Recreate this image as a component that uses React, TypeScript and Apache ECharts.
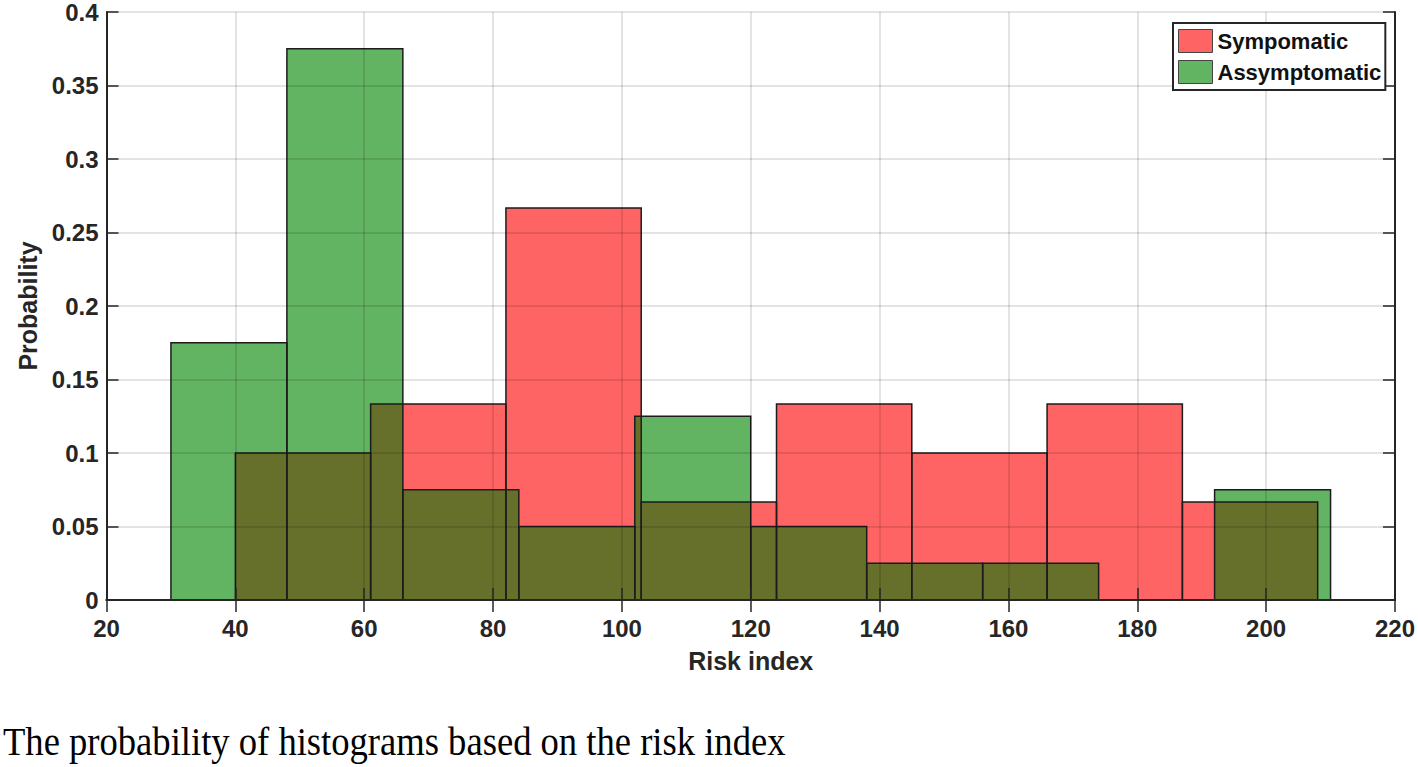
import React, { useEffect, useRef } from "react";
import * as echarts from "echarts";

// ---- data ----
const seriesNames = ["Sympomatic", "Assymptomatic"];
const symEdges = [40, 61, 82, 103, 124, 145, 166, 187, 208];
const symProb = [0.1, 0.1333, 0.2667, 0.0667, 0.1333, 0.1, 0.1333, 0.0667];
const asymEdges = [30, 48, 66, 84, 102, 120, 138, 156, 174, 192, 210];
const asymProb = [0.175, 0.375, 0.075, 0.05, 0.125, 0.05, 0.025, 0.025, 0, 0.075];
const xRange = [20, 220];
const xStep = 20;
const yRange = [0, 0.4];
const yStep = 0.05;
const xTitle = "Risk index";
const yTitle = "Probability";
const caption = "The probability of histograms based on the risk index";

// ---- styles ----
const RED = "#ff6464";
const GREEN = "#62b362";
const OLIVE = "#66702a";
const EDGE = "#1c1c1c";
const AX = "#262626";
const SANS = '"Liberation Sans", Arial, Helvetica, sans-serif';

type Bin = [number, number, number];
const toBins = (edges: number[], probs: number[]): Bin[] =>
  probs.map((p, i) => [edges[i], edges[i + 1], p] as Bin).filter((b) => b[2] > 0);

const symBins = toBins(symEdges, symProb);
const asymBins = toBins(asymEdges, asymProb);
const overlapBins: Bin[] = [];
symBins.forEach((a) =>
  asymBins.forEach((b) => {
    const lo = Math.max(a[0], b[0]);
    const hi = Math.min(a[1], b[1]);
    const h = Math.min(a[2], b[2]);
    if (hi > lo && h > 0) overlapBins.push([lo, hi, h]);
  })
);

const rectRenderer = (fill: string, stroke: string, lineWidth: number) => (_p: any, api: any) => {
  const p0 = api.coord([api.value(0), api.value(2)]);
  const p1 = api.coord([api.value(1), 0]);
  return {
    type: "rect",
    shape: { x: p0[0], y: p0[1], width: p1[0] - p0[0], height: p1[1] - p0[1] },
    style: { fill, stroke, lineWidth },
  };
};

export default function App() {
  const ref = useRef<HTMLDivElement>(null);
  useEffect(() => {
    if (!ref.current) return;
    const chart = echarts.init(ref.current, undefined, { renderer: "svg" });
    const tickStyle = { show: true, inside: true, length: 12, lineStyle: { color: AX, width: 1.5 } };
    const axisLine = { show: true, lineStyle: { color: AX, width: 2 } };
    const gridLine = { show: true, lineStyle: { color: "rgba(0,0,0,0.15)", width: 1.5 } };
    const labelStyle = { color: AX, fontFamily: SANS, fontWeight: "bold" as const, fontSize: 24 };
    const nameStyle = { color: AX, fontFamily: SANS, fontWeight: "bold" as const, fontSize: 25 };
    chart.setOption({
      animation: false,
      backgroundColor: "#ffffff",
      grid: { left: 106.5, right: 20, top: 10, bottom: 167, containLabel: false },
      xAxis: [
        {
          type: "value", min: xRange[0], max: xRange[1], interval: xStep, position: "bottom", z: 10,
          axisLine, axisTick: tickStyle, splitLine: gridLine,
          axisLabel: { ...labelStyle, margin: 16 },
          name: xTitle, nameLocation: "middle", nameGap: 48, nameTextStyle: nameStyle,
        },
        {
          type: "value", min: xRange[0], max: xRange[1], interval: xStep, position: "top", z: 10,
          axisLine, axisTick: tickStyle, splitLine: { show: false }, axisLabel: { show: false },
        },
      ],
      yAxis: [
        {
          type: "value", min: yRange[0], max: yRange[1], interval: yStep, position: "left", z: 10,
          axisLine, axisTick: tickStyle, splitLine: gridLine,
          axisLabel: { ...labelStyle, margin: 8 },
          name: yTitle, nameLocation: "middle", nameGap: 62, nameTextStyle: nameStyle,
        },
        {
          type: "value", min: yRange[0], max: yRange[1], interval: yStep, position: "right", z: 10,
          axisLine, axisTick: tickStyle, splitLine: { show: false }, axisLabel: { show: false },
        },
      ],
      legend: {
        orient: "vertical", left: 1173, top: 23, z: 20,
        backgroundColor: "#ffffff", borderColor: AX, borderWidth: 2,
        padding: [6, 4, 6, 5], itemWidth: 34, itemHeight: 23, itemGap: 7,
        icon: "rect",
        textStyle: { color: "#111", fontFamily: SANS, fontWeight: "bold", fontSize: 22 },
        data: [
          { name: seriesNames[0], itemStyle: { color: RED, borderColor: "#444", borderWidth: 1 } },
          { name: seriesNames[1], itemStyle: { color: GREEN, borderColor: "#444", borderWidth: 1 } },
        ],
      },
      series: [
        {
          name: seriesNames[1], type: "custom", renderItem: rectRenderer(GREEN, "none", 0),
          data: asymBins, encode: { x: [0, 1], y: 2 }, itemStyle: { color: GREEN }, silent: true, z: 2,
        },
        {
          name: seriesNames[0], type: "custom", renderItem: rectRenderer(RED, "none", 0),
          data: symBins, encode: { x: [0, 1], y: 2 }, itemStyle: { color: RED }, silent: true, z: 2,
        },
        {
          name: "overlap", type: "custom", renderItem: rectRenderer(OLIVE, "none", 0),
          data: overlapBins, encode: { x: [0, 1], y: 2 }, silent: true, z: 3,
        },
        {
          name: "edges", type: "custom", renderItem: rectRenderer("none", EDGE, 1.5),
          data: [...asymBins, ...symBins], encode: { x: [0, 1], y: 2 }, silent: true, z: 4,
        },
      ],
      graphic: [
        {
          type: "text", x: 3, y: 721, scaleX: 0.915, z: 30,
          style: { text: caption, fontFamily: '"Liberation Serif", "Times New Roman", serif', fontSize: 40, fill: "#000" },
        },
      ],
    });
    return () => chart.dispose();
  }, []);
  return (
    <div
      ref={ref}
      style={{ position: "absolute", left: 0, top: 0, width: 1418, height: 767, background: "#fff" }}
    />
  );
}
